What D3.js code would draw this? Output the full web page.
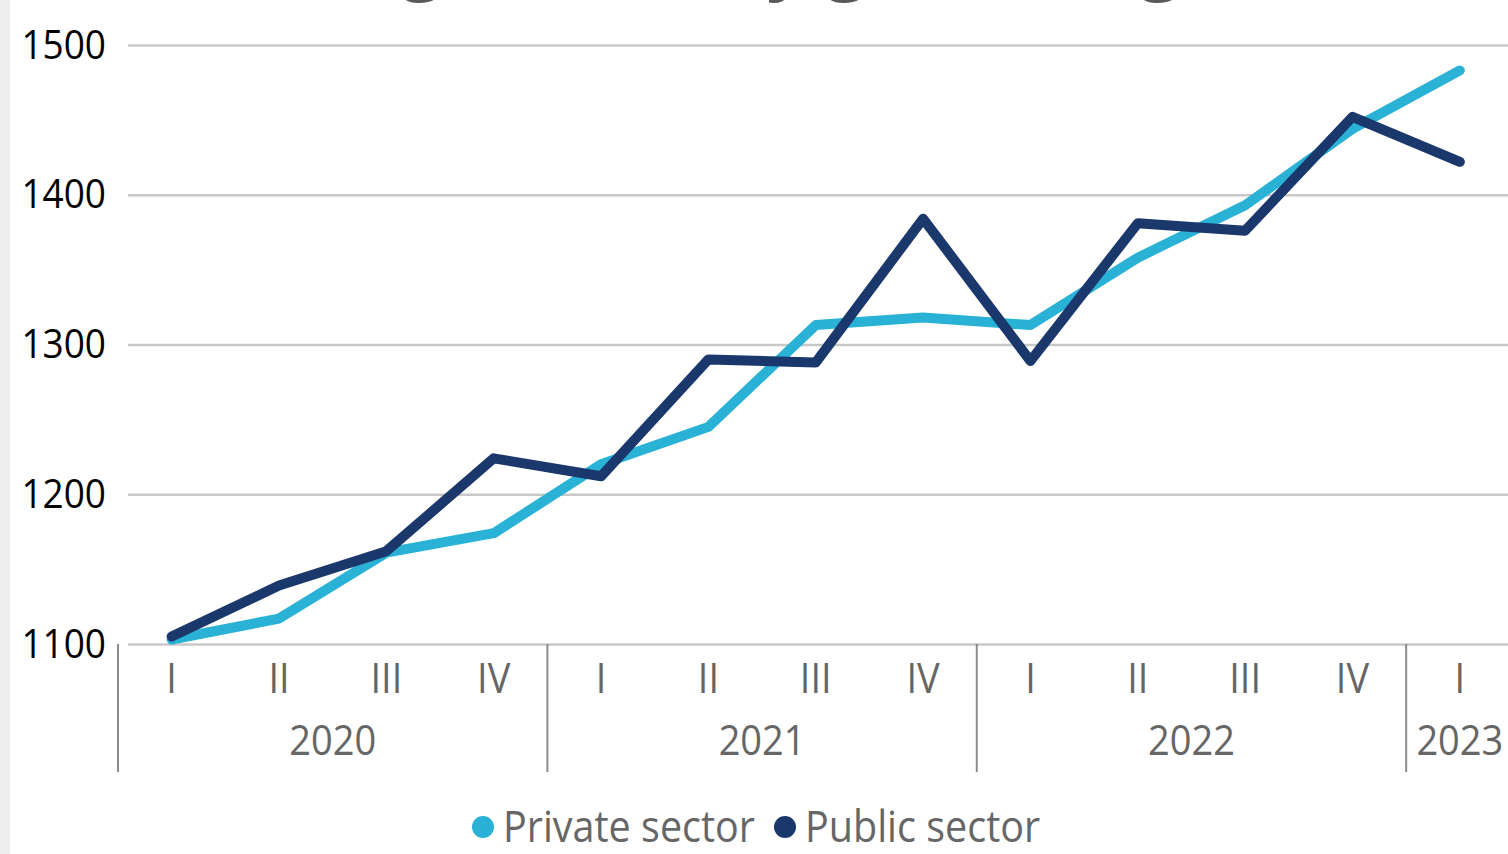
<!DOCTYPE html>
<html>
<head>
<meta charset="utf-8">
<script src="https://cdn.jsdelivr.net/npm/d3@7"></script>
<style>
  html, body { margin: 0; padding: 0; background: #fff; overflow: hidden; }
  svg { display: block; font-family: "Open Sans", "Noto Sans", sans-serif; }
</style>
</head>
<body>
<svg id="chart" width="1508" height="854"></svg>
<script>
// data
const quarters = ['I', 'II', 'III', 'IV', 'I', 'II', 'III', 'IV', 'I', 'II', 'III', 'IV', 'I'];
const quarterYears = ['2020', '2020', '2020', '2020', '2021', '2021', '2021', '2021',
  '2022', '2022', '2022', '2022', '2023'];
const years = ['2020', '2021', '2022', '2023'];
const privateSector = [1103, 1117, 1161, 1174, 1220, 1245, 1313, 1318, 1313, 1358, 1393, 1444, 1483];
const publicSector = [1105, 1139, 1162, 1224, 1212, 1290, 1288, 1384, 1289, 1381, 1376, 1452, 1422];
const yTicks = [1100, 1200, 1300, 1400, 1500];
const seriesNames = ['Private sector', 'Public sector'];
const seriesColors = ['#29b2d6', '#1b386c'];

const svg = d3.select('#chart');
const periods = quarters.map((q, i) => quarterYears[i] + ' ' + q);
// the source text looks slightly stretched vertically
const stretch = 'scale(1,1.1)';

// plot area (runs a little past the right edge, like the original crop)
const plotLeft = 118, plotRight = 1513.5, plotTop = 45, plotBottom = 644;

const x = d3.scaleBand().domain(periods).range([plotLeft, plotRight]).padding(0);
const y = d3.scaleLinear().domain([1100, 1500]).range([plotBottom, plotTop]);

// grey strip on the left border
svg.append('rect')
  .attr('x', 0).attr('y', 0).attr('width', 10).attr('height', 854)
  .attr('fill', '#eeeeee');

// title, mostly above the visible area
svg.append('text')
  .attr('x', 192).attr('y', -14)
  .attr('font-size', 72).attr('font-weight', 700)
  .attr('fill', '#595959')
  .text('Average monthly gross wage');

// horizontal gridlines
svg.append('g')
  .attr('transform', `translate(${plotLeft + 10},0)`)
  .call(d3.axisRight(y).tickValues(yTicks).tickSize(plotRight - plotLeft).tickFormat(''))
  .call(g => g.select('.domain').remove())
  .call(g => g.selectAll('line').attr('stroke', '#c8c8c8').attr('stroke-width', 2.5));

// y labels
svg.append('g')
  .attr('transform', 'translate(106,0)')
  .call(d3.axisLeft(y).tickValues(yTicks).tickSize(0).tickPadding(0).tickFormat(d3.format('d')))
  .call(g => g.select('.domain').remove())
  .call(g => g.selectAll('text')
    .attr('font-size', 37).attr('fill', '#000')
    .attr('font-family', '"Open Sans", sans-serif')
    .attr('transform', stretch));

// quarter labels
svg.append('g')
  .selectAll('text')
  .data(periods)
  .join('text')
  .attr('transform', d => `translate(${x(d) + x.bandwidth() / 2},693) ${stretch}`)
  .attr('text-anchor', 'middle')
  .attr('font-size', 38)
  .attr('fill', '#666')
  .text((d, i) => quarters[i]);

// year groups: separators and labels
const yearBands = years.map(yr => {
  const ps = periods.filter((p, i) => quarterYears[i] === yr);
  return { year: yr, x0: x(ps[0]), x1: x(ps[ps.length - 1]) + x.bandwidth() };
});

svg.append('g')
  .selectAll('line')
  .data(yearBands)
  .join('line')
  .attr('x1', d => d.x0).attr('x2', d => d.x0)
  .attr('y1', plotBottom).attr('y2', 772)
  .attr('stroke', '#8c8c8c').attr('stroke-width', 2);

svg.append('g')
  .selectAll('text')
  .data(yearBands)
  .join('text')
  .attr('transform', d => `translate(${(d.x0 + d.x1) / 2},755) ${stretch}`)
  .attr('text-anchor', 'middle')
  .attr('font-size', 38)
  .attr('fill', '#666')
  .text(d => d.year);

// lines
const line = d3.line()
  .x((d, i) => x(periods[i]) + x.bandwidth() / 2)
  .y(d => y(d));

[privateSector, publicSector].forEach((vals, k) => {
  svg.append('path')
    .datum(vals)
    .attr('d', line)
    .attr('fill', 'none')
    .attr('stroke', seriesColors[k])
    .attr('stroke-width', 10)
    .attr('stroke-linecap', 'round')
    .attr('stroke-linejoin', 'round');
});

// legend
const legendX = [483, 785];
const legend = svg.append('g')
  .selectAll('g')
  .data(seriesNames)
  .join('g')
  .attr('transform', (d, i) => `translate(${legendX[i]},827)`);

legend.append('circle')
  .attr('r', 11)
  .attr('fill', (d, i) => seriesColors[i]);

legend.append('text')
  .attr('transform', `translate(20,15) ${stretch}`)
  .attr('font-size', 39.5)
  .attr('fill', '#666')
  .text(d => d);
</script>
</body>
</html>
